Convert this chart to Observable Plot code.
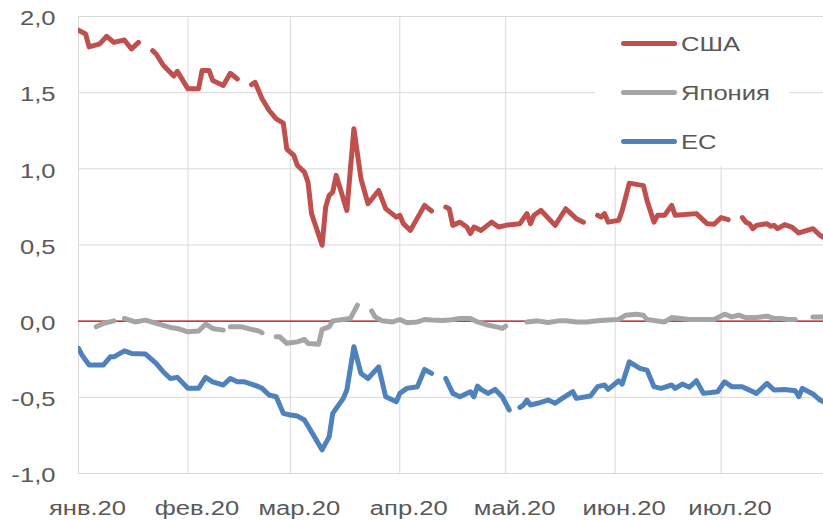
<!DOCTYPE html>
<html><head><meta charset="utf-8">
<script src="https://cdn.jsdelivr.net/npm/d3@7"></script>
<script src="https://cdn.jsdelivr.net/npm/@observablehq/plot@0.6"></script>
<style>
body{margin:0;background:#fff;}
#wrap{position:relative;width:823px;height:520px;overflow:hidden;font-family:"Liberation Sans",Arial,sans-serif;}
#legend{position:absolute;left:595px;top:17px;width:195px;height:149px;background:#fff;}
.sw{position:absolute;left:26px;width:56px;height:5px;border-radius:3px;}
.lab{position:absolute;left:86px;font-size:21px;line-height:24px;color:#595959;transform:scaleX(1.22);transform-origin:left center;white-space:nowrap;}
</style></head>
<body>
<div id="wrap"><div id="legend"></div></div>
<script>
const seriesNames = ["США", "Япония", "ЕС"];
const seriesColors = ["#C0504D", "#A5A5A5", "#4F81BD"];
const monthTicks = ["2020-01-01","2020-02-01","2020-03-01","2020-04-01","2020-05-01","2020-06-01","2020-07-01"];
const monthLabels = ["янв.20","фев.20","мар.20","апр.20","май.20","июн.20","июл.20"];
const yTicks = [-1, -0.5, 0, 0.5, 1, 1.5, 2];
const xStart = "2020-01-01", xEnd = "2020-07-30";

const usa = [
["2020-01-01",1.91],["2020-01-03",1.885],["2020-01-04",1.80],["2020-01-07",1.82],["2020-01-09",1.87],
["2020-01-11",1.83],["2020-01-14",1.846],["2020-01-16",1.787],["2020-01-18",1.83],["2020-01-20",null],
["2020-01-22",1.776],["2020-01-23",1.754],["2020-01-25",1.68],["2020-01-28",1.61],["2020-01-29",1.64],
["2020-02-01",1.525],["2020-02-04",1.525],["2020-02-05",1.645],["2020-02-07",1.645],["2020-02-08",1.58],
["2020-02-11",1.547],["2020-02-13",1.627],["2020-02-15",1.59],["2020-02-17",null],["2020-02-19",1.553],
["2020-02-20",1.568],["2020-02-22",1.46],["2020-02-24",1.383],["2020-02-26",1.328],["2020-02-28",1.30],
["2020-02-29",1.13],["2020-03-02",1.088],["2020-03-03",1.022],["2020-03-05",0.978],["2020-03-06",0.913],
["2020-03-07",0.706],["2020-03-10",0.498],["2020-03-11",0.749],["2020-03-12",0.826],["2020-03-13",0.847],
["2020-03-14",0.957],["2020-03-17",0.727],["2020-03-19",1.263],["2020-03-21",0.935],["2020-03-23",0.771],
["2020-03-26",0.858],["2020-03-28",0.739],["2020-03-31",0.683],["2020-04-01",0.695],["2020-04-02",0.64],
["2020-04-04",0.596],["2020-04-08",0.76],["2020-04-10",0.723],["2020-04-12",null],["2020-04-14",0.749],
["2020-04-15",0.738],["2020-04-16",0.629],["2020-04-18",0.65],["2020-04-20",0.618],["2020-04-21",0.575],
["2020-04-22",0.618],["2020-04-24",0.596],["2020-04-27",0.65],["2020-04-29",0.618],["2020-05-01",0.629],
["2020-05-05",0.64],["2020-05-07",0.706],["2020-05-08",0.64],["2020-05-09",0.695],["2020-05-11",0.727],
["2020-05-15",0.629],["2020-05-18",0.738],["2020-05-21",0.673],["2020-05-23",0.65],["2020-05-25",null],
["2020-05-27",0.695],["2020-05-28",0.683],["2020-05-29",0.706],["2020-05-30",0.65],["2020-06-02",0.662],
["2020-06-03",0.727],["2020-06-05",0.906],["2020-06-09",0.89],["2020-06-10",0.793],["2020-06-12",0.65],
["2020-06-13",0.695],["2020-06-15",0.695],["2020-06-17",0.76],["2020-06-18",0.695],["2020-06-24",0.706],
["2020-06-27",0.64],["2020-06-29",0.636],["2020-07-01",0.68],["2020-07-03",0.666],["2020-07-05",null],
["2020-07-07",0.68],["2020-07-08",0.65],["2020-07-09",0.64],["2020-07-10",0.607],["2020-07-11",0.629],
["2020-07-14",0.64],["2020-07-15",0.623],["2020-07-16",0.629],["2020-07-17",0.607],["2020-07-19",0.634],
["2020-07-21",0.618],["2020-07-23",0.579],["2020-07-27",0.607],["2020-07-29",0.564],["2020-07-30",0.55]
];

const japan = [
["2020-01-06",-0.037],["2020-01-08",-0.015],["2020-01-11",0.002],["2020-01-12",null],["2020-01-14",0.018],
["2020-01-17",-0.005],["2020-01-20",0.007],["2020-01-23",-0.015],["2020-01-27",-0.041],["2020-01-29",-0.048],
["2020-02-01",-0.07],["2020-02-04",-0.064],["2020-02-06",-0.02],["2020-02-08",-0.048],["2020-02-11",-0.059],
["2020-02-12",null],["2020-02-13",-0.037],["2020-02-16",-0.037],["2020-02-19",-0.054],["2020-02-21",-0.064],
["2020-02-22",-0.077],["2020-02-24",null],["2020-02-26",-0.103],["2020-02-27",-0.103],["2020-02-29",-0.146],
["2020-03-01",-0.142],["2020-03-03",-0.136],["2020-03-05",-0.12],["2020-03-06",-0.146],["2020-03-09",-0.151],
["2020-03-10",-0.054],["2020-03-12",-0.037],["2020-03-13",0.002],["2020-03-16",0.011],["2020-03-18",0.018],
["2020-03-20",0.105],["2020-03-22",null],["2020-03-24",0.068],["2020-03-25",0.028],["2020-03-27",0.002],
["2020-03-30",-0.005],["2020-04-01",0.011],["2020-04-03",-0.011],["2020-04-06",-0.005],["2020-04-08",0.011],
["2020-04-10",0.007],["2020-04-13",0.005],["2020-04-15",0.007],["2020-04-18",0.018],["2020-04-21",0.018],
["2020-04-23",-0.005],["2020-04-26",-0.026],["2020-04-29",-0.041],["2020-04-30",-0.048],["2020-05-01",-0.033],
["2020-05-04",null],["2020-05-07",-0.005],["2020-05-10",0.002],["2020-05-13",-0.009],["2020-05-16",0.002],
["2020-05-18",0.002],["2020-05-21",-0.005],["2020-05-24",-0.005],["2020-05-27",0.002],["2020-05-30",0.007],
["2020-06-02",0.011],["2020-06-04",0.039],["2020-06-07",0.046],["2020-06-09",0.039],["2020-06-10",0.011],
["2020-06-15",-0.005],["2020-06-17",0.024],["2020-06-22",0.011],["2020-06-29",0.011],["2020-07-02",0.046],
["2020-07-04",0.028],["2020-07-06",0.039],["2020-07-08",0.024],["2020-07-11",0.024],["2020-07-14",0.033],
["2020-07-16",0.018],["2020-07-18",0.018],["2020-07-20",0.011],["2020-07-22",0.011],["2020-07-24",null],
["2020-07-27",0.028],["2020-07-30",0.028]
];

const eu = [
["2020-01-01",-0.179],["2020-01-02",-0.223],["2020-01-04",-0.288],["2020-01-08",-0.288],["2020-01-10",-0.234],
["2020-01-11",-0.234],["2020-01-14",-0.195],["2020-01-16",-0.212],["2020-01-20",-0.216],["2020-01-23",-0.277],
["2020-01-25",-0.332],["2020-01-27",-0.376],["2020-01-29",-0.369],["2020-02-01",-0.441],["2020-02-04",-0.441],
["2020-02-06",-0.369],["2020-02-08",-0.398],["2020-02-11",-0.419],["2020-02-13",-0.376],["2020-02-15",-0.398],
["2020-02-17",-0.398],["2020-02-19",-0.413],["2020-02-21",-0.43],["2020-02-22",-0.441],["2020-02-24",-0.485],
["2020-02-26",-0.496],["2020-02-28",-0.605],["2020-03-01",-0.616],["2020-03-03",-0.623],["2020-03-05",-0.649],
["2020-03-10",-0.845],["2020-03-12",-0.758],["2020-03-13",-0.605],["2020-03-16",-0.507],["2020-03-17",-0.452],
["2020-03-19",-0.168],["2020-03-21",-0.343],["2020-03-23",-0.376],["2020-03-26",-0.3],["2020-03-28",-0.496],
["2020-03-31",-0.529],["2020-04-01",-0.474],["2020-04-03",-0.441],["2020-04-06",-0.43],["2020-04-08",-0.317],
["2020-04-10",-0.343],["2020-04-12",null],["2020-04-14",-0.376],["2020-04-16",-0.474],["2020-04-18",-0.496],
["2020-04-21",-0.463],["2020-04-22",-0.496],["2020-04-23",-0.426],["2020-04-24",-0.448],["2020-04-26",-0.474],
["2020-04-28",-0.448],["2020-04-30",-0.496],["2020-05-02",-0.583],["2020-05-04",null],["2020-05-05",-0.566],
["2020-05-06",-0.55],["2020-05-07",-0.518],["2020-05-08",-0.55],["2020-05-10",-0.539],["2020-05-13",-0.518],
["2020-05-15",-0.539],["2020-05-17",-0.507],["2020-05-20",-0.463],["2020-05-21",-0.507],["2020-05-25",-0.491],
["2020-05-27",-0.43],["2020-05-29",-0.419],["2020-05-30",-0.448],["2020-06-02",-0.391],["2020-06-03",-0.413],
["2020-06-05",-0.267],["2020-06-08",-0.31],["2020-06-10",-0.321],["2020-06-12",-0.43],["2020-06-14",-0.441],
["2020-06-17",-0.419],["2020-06-18",-0.441],["2020-06-20",-0.413],["2020-06-22",-0.434],["2020-06-24",-0.391],
["2020-06-26",-0.474],["2020-06-30",-0.463],["2020-07-02",-0.398],["2020-07-04",-0.43],["2020-07-07",-0.43],
["2020-07-11",-0.474],["2020-07-14",-0.408],["2020-07-16",-0.452],["2020-07-19",-0.448],["2020-07-22",-0.457],
["2020-07-23",-0.496],["2020-07-24",-0.441],["2020-07-27",-0.478],["2020-07-29",-0.518],["2020-07-30",-0.53]
];

const seriesData = [usa, japan, eu];
const rows = seriesData.flatMap((arr, k) =>
  arr.map(([d, v]) => ({date: new Date(d), value: v, series: seriesNames[k]})));
const monthDates = monthTicks.map(d => new Date(d));
const labelMap = new Map(monthDates.map((d, i) => [+d, monthLabels[i]]));
const fmtY = d => d.toFixed(1).replace(".", ",");

const chart = Plot.plot({
  width: 823,
  height: 520,
  marginLeft: 78,
  marginRight: 0,
  marginTop: 16,
  marginBottom: 47,
  style: {fontFamily: "Liberation Sans, Arial, sans-serif", fontSize: "21px", color: "#595959", background: "#fff"},
  x: {type: "utc", domain: [new Date(xStart), new Date(xEnd)], label: null},
  y: {domain: [-1, 2], label: null},
  color: {domain: seriesNames, range: seriesColors},
  marks: [
    Plot.gridX(monthDates, {stroke: "#d9d9d9", strokeOpacity: 1, strokeWidth: 1}),
    Plot.gridY(yTicks, {stroke: "#d9d9d9", strokeOpacity: 1, strokeWidth: 1}),
    Plot.axisY(yTicks, {tickSize: 0, tickPadding: 23, dy: 2, tickFormat: fmtY, label: null, fill: "#595959"}),
    Plot.axisX(monthDates, {tickSize: 0, tickPadding: 27, dx: 9, tickFormat: d => labelMap.get(+d), label: null, fill: "#595959"}),
    Plot.ruleY([0], {stroke: "#C00000", strokeWidth: 1.3}),
    Plot.line(rows, {x: "date", y: "value", z: "series", stroke: "series", strokeWidth: 5,
      strokeLinecap: "round", strokeLinejoin: "round", clip: true})
  ]
});

chart.querySelectorAll("text").forEach(t => {
  const x = +(t.getAttribute("x") || 0);
  const tr = t.getAttribute("transform") || "";
  t.setAttribute("transform", `${tr} translate(${x},0) scale(1.22,1) translate(${-x},0)`);
});

const wrap = document.getElementById("wrap");
wrap.insertBefore(chart, wrap.firstChild);

const legend = document.getElementById("legend");
seriesNames.forEach((name, i) => {
  const cy = 26.5 + i * 49.2;
  const sw = document.createElement("div");
  sw.className = "sw";
  sw.style.top = (cy - 2.5) + "px";
  sw.style.background = seriesColors[i];
  legend.appendChild(sw);
  const lab = document.createElement("div");
  lab.className = "lab";
  lab.style.top = (cy - 11.5) + "px";
  lab.textContent = name;
  legend.appendChild(lab);
});
</script>
</body></html>
